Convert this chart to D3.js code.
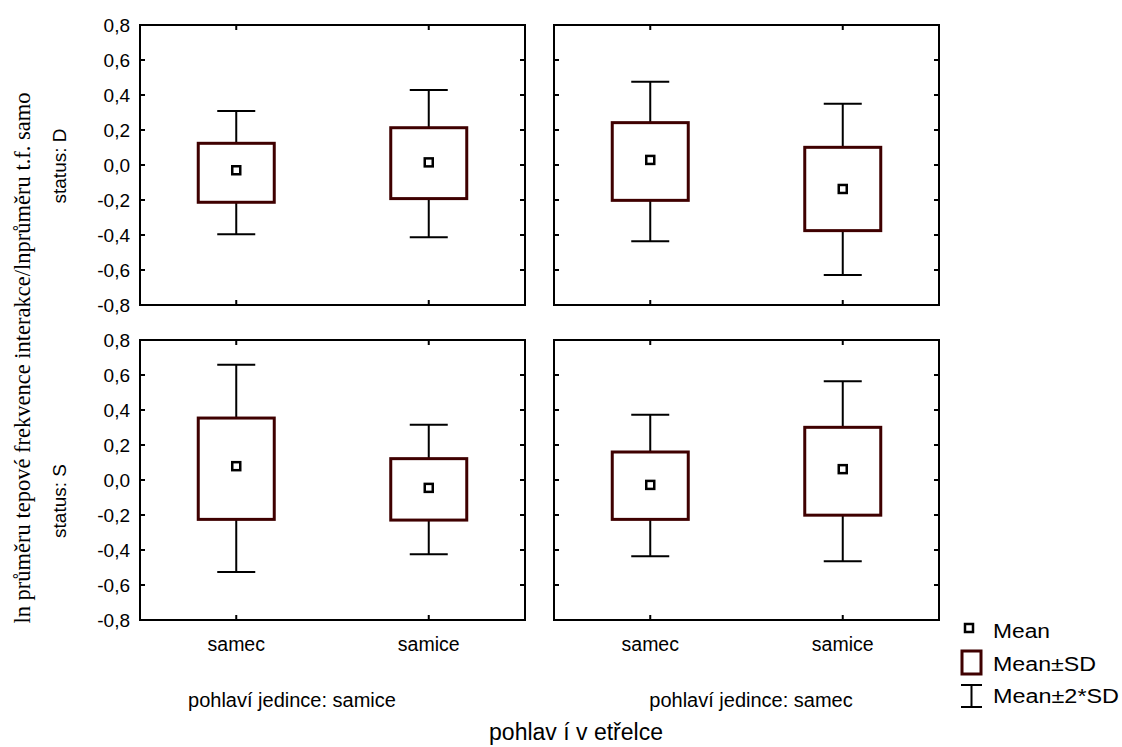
<!DOCTYPE html>
<html>
<head>
<meta charset="utf-8">
<script src="https://cdn.jsdelivr.net/npm/d3@7"></script>
<style>
  body { margin: 0; background: #fff; }
  text { font-family: "Liberation Sans", Arial, sans-serif; fill: #000; }
  .serif { font-family: "Liberation Serif", "Times New Roman", serif; }
</style>
</head>
<body>
<svg id="chart" width="1122" height="747"></svg>
<script>
// panel rows (status) and columns (sex of the individual), x categories (sex of the intruder)
let statuses = ['D', 'S'];
let individualSex = ['samice', 'samec'];
let intruderSex = ['samec', 'samice'];

// one value per box, ordered status -> individual -> intruder
let means  = [-0.030, 0.015, 0.029, -0.137,  0.079, -0.045, -0.028, 0.062];
let sdLow  = [-0.213, -0.192, -0.202, -0.375, -0.225, -0.229, -0.225, -0.201];
let sdHigh = [ 0.124, 0.213, 0.242, 0.101,  0.354, 0.122, 0.160, 0.301];
let sd2Low  = [-0.396, -0.413, -0.436, -0.629, -0.525, -0.424, -0.436, -0.464];
let sd2High = [ 0.309, 0.429, 0.476, 0.350,  0.658, 0.316, 0.373, 0.565];

let yTicks = [0.8, 0.6, 0.4, 0.2, 0.0, -0.2, -0.4, -0.6, -0.8];

let width = 1122, height = 747;
let svg = d3.select('#chart');

let colLeft = [140, 554];
let panelW = 385;
let rowTop = [25, 340];
let panelH = 280;

let boxColor = '#3f0000';
let fmt = d => d3.format('.1f')(d).replace('.', ',').replace('−', '-');

let x = d3.scaleBand().domain(intruderSex).range([0, panelW]);
let y = d3.scaleLinear().domain([-0.8, 0.8]).range([panelH, 0]);

statuses.forEach((st, r) => {
  individualSex.forEach((ind, c) => {
    let g = svg.append('g').attr('transform', `translate(${colLeft[c]},${rowTop[r]})`);

    // frame
    g.append('rect')
      .attr('width', panelW).attr('height', panelH)
      .attr('fill', 'none').attr('stroke', '#000').attr('stroke-width', 2);

    // inward ticks on all four sides
    g.selectAll('.yt').data(yTicks).enter().append('path')
      .attr('d', d => `M0,${y(d)}h5M${panelW},${y(d)}h-5`)
      .attr('stroke', '#000').attr('stroke-width', 2);
    g.selectAll('.xt').data(intruderSex).enter().append('path')
      .attr('d', d => {
        let cx = x(d) + x.bandwidth() / 2;
        return `M${cx},0v5M${cx},${panelH}v-5`;
      })
      .attr('stroke', '#000').attr('stroke-width', 2);

    // y tick labels only on the left column
    if (c === 0) {
      g.selectAll('.yl').data(yTicks).enter().append('text')
        .attr('x', -10).attr('y', d => y(d))
        .attr('dy', '0.36em')
        .attr('text-anchor', 'end')
        .style('font-size', '19px')
        .text(fmt);
    }

    // x labels only on the bottom row
    if (r === statuses.length - 1) {
      g.selectAll('.xl').data(intruderSex).enter().append('text')
        .attr('x', d => x(d) + x.bandwidth() / 2)
        .attr('y', panelH + 31)
        .attr('text-anchor', 'middle')
        .style('font-size', '19.5px')
        .text(d => d);
    }

    intruderSex.forEach((intr, k) => {
      let i = r * 4 + c * 2 + k;
      let cx = x(intr) + x.bandwidth() / 2;
      // whiskers (mean ± 2*SD)
      g.append('path')
        .attr('d', `M${cx},${y(sdHigh[i])}V${y(sd2High[i])}M${cx - 19},${y(sd2High[i])}h38` +
                   `M${cx},${y(sdLow[i])}V${y(sd2Low[i])}M${cx - 19},${y(sd2Low[i])}h38`)
        .attr('fill', 'none').attr('stroke', '#000').attr('stroke-width', 2);
      // box (mean ± SD)
      g.append('rect')
        .attr('x', cx - 38).attr('width', 76)
        .attr('y', y(sdHigh[i])).attr('height', y(sdLow[i]) - y(sdHigh[i]))
        .attr('fill', '#fff').attr('stroke', boxColor).attr('stroke-width', 3);
      // mean
      g.append('rect')
        .attr('x', cx - 4).attr('y', y(means[i]) - 4)
        .attr('width', 8).attr('height', 8)
        .attr('fill', '#fff').attr('stroke', '#000').attr('stroke-width', 2.5);
    });
  });
});

// row labels
let rowLabelY = [166, 501];
statuses.forEach((st, r) => {
  svg.append('text')
    .attr('transform', `translate(66,${rowLabelY[r]}) rotate(-90)`)
    .attr('text-anchor', 'middle')
    .style('font-size', '19px')
    .text('status: ' + st);
});

// column labels
let colLabelX = [292, 751];
individualSex.forEach((s, c) => {
  svg.append('text')
    .attr('x', colLabelX[c]).attr('y', 707)
    .attr('text-anchor', 'middle')
    .style('font-size', '20px')
    .text('pohlaví jedince: ' + s);
});

// axis titles
svg.append('text')
  .attr('x', 576).attr('y', 740)
  .attr('text-anchor', 'middle')
  .style('font-size', '23px')
  .text('pohlav í v etřelce');

svg.append('text')
  .attr('class', 'serif')
  .attr('transform', 'translate(30,358) rotate(-90)')
  .attr('text-anchor', 'middle')
  .style('font-size', '22.5px')
  .text('ln průměru tepové frekvence interakce/lnprůměru t.f. samo');

// legend
let legend = svg.append('g');
legend.append('rect').attr('x', 965).attr('y', 624).attr('width', 8).attr('height', 8)
  .attr('fill', '#fff').attr('stroke', '#000').attr('stroke-width', 2.5);
legend.append('rect').attr('x', 962).attr('y', 651).attr('width', 19).attr('height', 23)
  .attr('fill', '#fff').attr('stroke', boxColor).attr('stroke-width', 3);
legend.append('path').attr('d', 'M961,685h21M971.5,685V707M961,707h21')
  .attr('fill', 'none').attr('stroke', '#000').attr('stroke-width', 2);
let legendText = ['Mean', 'Mean±SD', 'Mean±2*SD'];
let legendW = [57, 103, 126];
let legendY = [638, 671, 703];
legendText.forEach((t, i) => {
  legend.append('text').attr('x', 993).attr('y', legendY[i])
    .attr('textLength', legendW[i]).attr('lengthAdjust', 'spacingAndGlyphs')
    .style('font-size', '20px').text(t);
});
</script>
</body>
</html>
